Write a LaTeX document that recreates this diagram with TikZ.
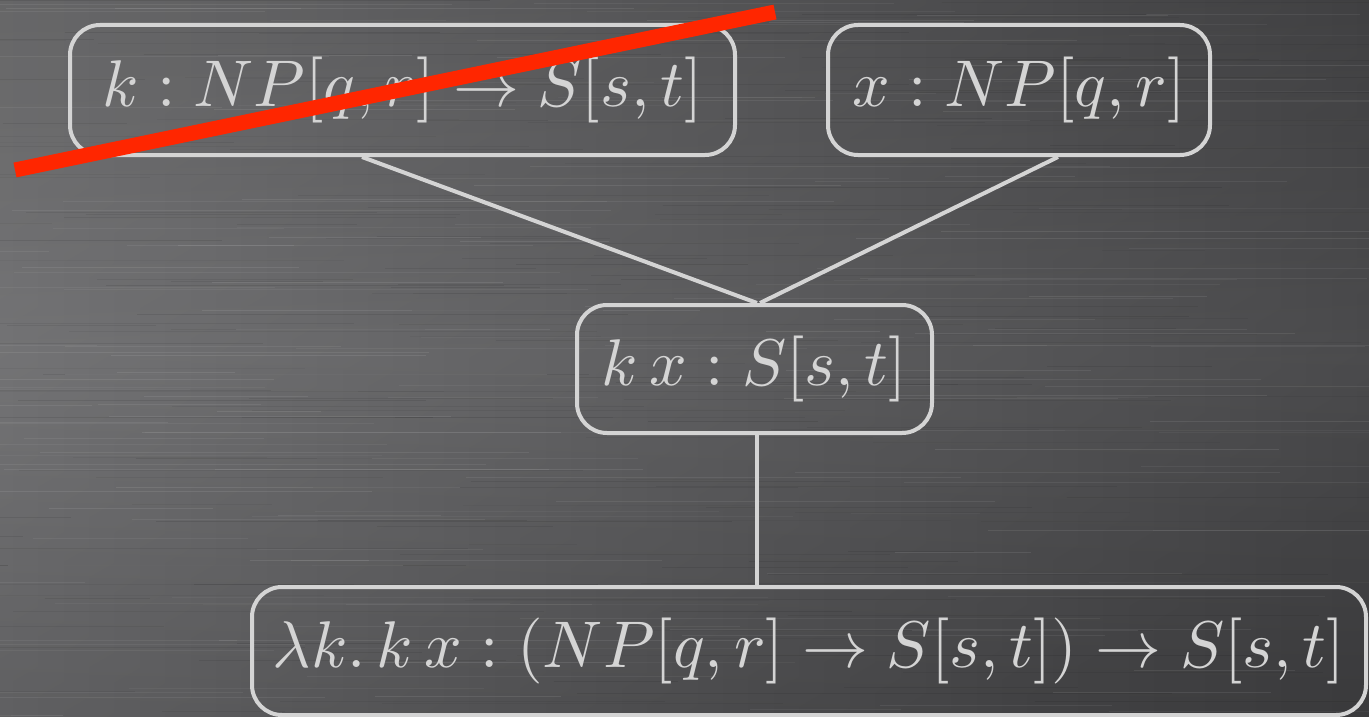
\documentclass[tikz,border=0pt]{standalone}
\usepackage{graphicx}
\usetikzlibrary{calc}
\definecolor{bgA}{RGB}{116,116,118}
\definecolor{bgB}{RGB}{62,62,64}
\definecolor{boxline}{RGB}{212,212,212}
\definecolor{strike}{RGB}{255,38,0}
\newcommand{\mytxt}[1]{\scalebox{6.6}{$#1$}}
\tikzset{
  tbox/.style={draw=boxline, line width=4pt, rounded corners=30pt, inner sep=0pt,
    text=boxline},
  conn/.style={draw=boxline, line width=4pt}
}
\begin{document}
\begin{tikzpicture}[x=1pt,y=-1pt]
\useasboundingbox (0,0) rectangle (1369,717);
\shade[shading=axis, top color=bgA!85!black, bottom color=bgB, shading angle=30] (0,0) rectangle (1369,717);
\shade[left color=bgA, right color=bgB, opacity=0.6] (0,0) rectangle (1369,717);
\shade[top color=black, bottom color=black, middle color=white, opacity=0.06] (0,0) rectangle (1369,717);
\pgfmathsetseed{7}
\foreach \i in {1,...,350}{
  \pgfmathsetmacro{\yy}{rnd*717}
  \pgfmathsetmacro{\xa}{rnd*1369-200}
  \pgfmathsetmacro{\ll}{100+rnd*500}
  \pgfmathsetmacro{\op}{0.03+rnd*0.06}
  \pgfmathparse{rnd>0.5?1:0}
  \ifnum\pgfmathresult=1
    \draw[white, opacity=\op, line width=1pt] (\xa,\yy) -- ++(\ll,0);
  \else
    \draw[black, opacity=\op, line width=1pt] (\xa,\yy) -- ++(\ll,0);
  \fi
}
\node[tbox, minimum width=665pt, minimum height=130pt] (A) at (402.5,90) {\mytxt{k : NP[q,r] \rightarrow S[s,t]}};
\node[tbox, minimum width=382pt, minimum height=130pt] (B) at (1019,90) {\mytxt{x : NP[q,r]}};
\node[tbox, minimum width=355pt, minimum height=128pt] (C) at (754.5,369) {\mytxt{k\,x : S[s,t]}};
\node[tbox, minimum width=1114pt, minimum height=128pt] (D) at (809,651) {\mytxt{\lambda k.\, k\,x : (NP[q,r] \rightarrow S[s,t]) \rightarrow S[s,t]}};
\draw[conn] ([xshift=-40.5pt]A.south) -- ([xshift=2.5pt]C.north);
\draw[conn] ([xshift=39pt]B.south) -- ([xshift=5.5pt]C.north);
\draw[conn] ([xshift=2.5pt]C.south) -- ([xshift=2.5pt]C.south |- D.north);
\coordinate (r1) at (15,170);
\coordinate (r2) at (775,12);
\draw[strike, line width=15pt] (r1) -- (r2);
\end{tikzpicture}
\end{document}
